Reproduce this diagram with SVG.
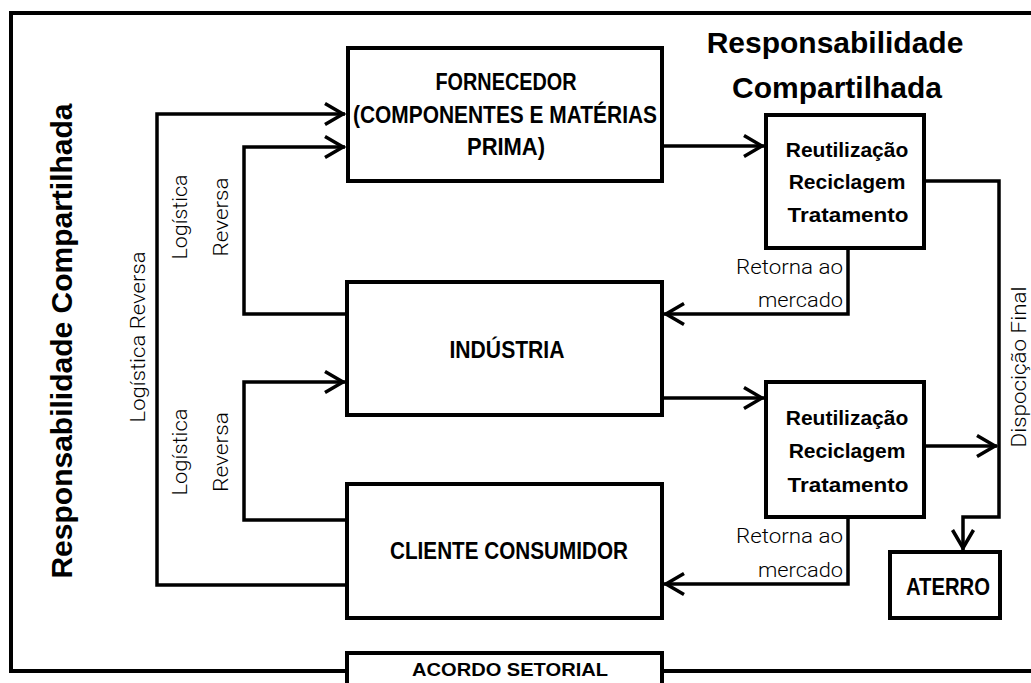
<svg xmlns="http://www.w3.org/2000/svg" width="1031" height="683" viewBox="0 0 1031 683">
<style>
.box{fill:#fff;stroke:#000;stroke-width:4}
.conn{fill:none;stroke:#000;stroke-width:3.5}
.bl{font-family:"Liberation Sans Narrow","Liberation Sans",Arial,sans-serif;font-weight:bold;font-size:23px;fill:#000;text-anchor:middle}
.rr{font-family:"Liberation Sans",Arial,sans-serif;font-weight:bold;font-size:21px;fill:#000;text-anchor:middle}
.title{font-family:"Liberation Sans",Arial,sans-serif;font-weight:bold;font-size:30px;fill:#000;text-anchor:middle}
.lt{font-family:Roboto,"Liberation Sans",Arial,sans-serif;font-weight:300;font-size:21px;fill:#000}
</style>
<defs>
<marker id="ah" markerUnits="userSpaceOnUse" markerWidth="30" markerHeight="30" viewBox="-25 -15 30 30" refX="0" refY="0" orient="auto" overflow="visible">
<path d="M-20,-10.5 L-2,0 L-20,10.5" fill="none" stroke="#000" stroke-width="3.5"/>
</marker>
</defs>
<rect x="0" y="0" width="1031" height="683" fill="#fff"/>
<g id="frame">
<path d="M1040,13 H11 V671 H347 M662,671 H1040" fill="none" stroke="#000" stroke-width="4"/>
</g>
<g id="connectors">
<path class="conn" d="M347,585 H157 V114 H345" marker-end="url(#ah)"/>
<path class="conn" d="M347,314 H244 V147 H345" marker-end="url(#ah)"/>
<path class="conn" d="M347,520 H244 V382 H345" marker-end="url(#ah)"/>
<path class="conn" d="M662,146 H764" marker-end="url(#ah)"/>
<path class="conn" d="M662,398 H764" marker-end="url(#ah)"/>
<path class="conn" d="M848,248 V314 H664" marker-end="url(#ah)"/>
<path class="conn" d="M848,517 V584 H664" marker-end="url(#ah)"/>
<path class="conn" d="M924,181 H999 V517 H963 V550" marker-end="url(#ah)"/>
<path class="conn" d="M924,446 H997" marker-end="url(#ah)"/>
</g>
<g id="fornecedor">
<rect class="box" x="348" y="48" width="314" height="133"/>
<text class="bl" x="506" y="90" textLength="141" lengthAdjust="spacingAndGlyphs">FORNECEDOR</text>
<text class="bl" x="505" y="123" textLength="304" lengthAdjust="spacingAndGlyphs">(COMPONENTES E MATÉRIAS</text>
<text class="bl" x="506" y="155" textLength="78" lengthAdjust="spacingAndGlyphs">PRIMA)</text>
</g>
<g id="industria">
<rect class="box" x="347" y="282" width="315" height="133"/>
<text class="bl" x="507" y="358" textLength="115" lengthAdjust="spacingAndGlyphs">INDÚSTRIA</text>
</g>
<g id="cliente">
<rect class="box" x="347" y="484" width="315" height="134"/>
<text class="bl" x="509" y="559" textLength="238" lengthAdjust="spacingAndGlyphs">CLIENTE CONSUMIDOR</text>
</g>
<g id="acordo">
<rect class="box" x="347" y="653" width="315" height="60"/>
<text class="bl" x="510" y="676" style="font-size:19px" textLength="196" lengthAdjust="spacingAndGlyphs">ACORDO SETORIAL</text>
</g>
<g id="reuso1">
<rect class="box" x="766" y="115" width="158" height="133"/>
<text class="rr" x="847" y="157">Reutilização</text>
<text class="rr" x="847" y="189">Reciclagem</text>
<text class="rr" x="848" y="222" textLength="121" lengthAdjust="spacingAndGlyphs">Tratamento</text>
</g>
<g id="reuso2">
<rect class="box" x="766" y="382" width="158" height="135"/>
<text class="rr" x="847" y="425">Reutilização</text>
<text class="rr" x="847" y="458">Reciclagem</text>
<text class="rr" x="848" y="492" textLength="121" lengthAdjust="spacingAndGlyphs">Tratamento</text>
</g>
<g id="aterro">
<rect class="box" x="890" y="552" width="110" height="66"/>
<text class="bl" x="948" y="595" textLength="84" lengthAdjust="spacingAndGlyphs">ATERRO</text>
</g>
<g id="labels">
<text class="title" x="835" y="53">Responsabilidade</text>
<text class="title" x="837" y="98">Compartilhada</text>
<text class="title" transform="translate(72,341) rotate(-90)" x="0" y="0">Responsabilidade Compartilhada</text>
<text class="lt" transform="translate(145,337) rotate(-90)" text-anchor="middle" textLength="171" lengthAdjust="spacingAndGlyphs">Logística Reversa</text>
<text class="lt" transform="translate(187,217) rotate(-90)" text-anchor="middle" textLength="85" lengthAdjust="spacingAndGlyphs">Logística</text>
<text class="lt" transform="translate(228,217) rotate(-90)" text-anchor="middle" textLength="79" lengthAdjust="spacingAndGlyphs">Reversa</text>
<text class="lt" transform="translate(187,452) rotate(-90)" text-anchor="middle" textLength="87" lengthAdjust="spacingAndGlyphs">Logística</text>
<text class="lt" transform="translate(228,452) rotate(-90)" text-anchor="middle" textLength="80" lengthAdjust="spacingAndGlyphs">Reversa</text>
<text class="lt" transform="translate(1026,367) rotate(-90)" text-anchor="middle" textLength="161" lengthAdjust="spacingAndGlyphs">Dispocição Final</text>
<text class="lt" x="843" y="274" text-anchor="end" textLength="107" lengthAdjust="spacingAndGlyphs">Retorna ao</text>
<text class="lt" x="843" y="307" text-anchor="end" textLength="85" lengthAdjust="spacingAndGlyphs">mercado</text>
<text class="lt" x="843" y="543" text-anchor="end" textLength="107" lengthAdjust="spacingAndGlyphs">Retorna ao</text>
<text class="lt" x="843" y="577" text-anchor="end" textLength="85" lengthAdjust="spacingAndGlyphs">mercado</text>
</g>
</svg>
